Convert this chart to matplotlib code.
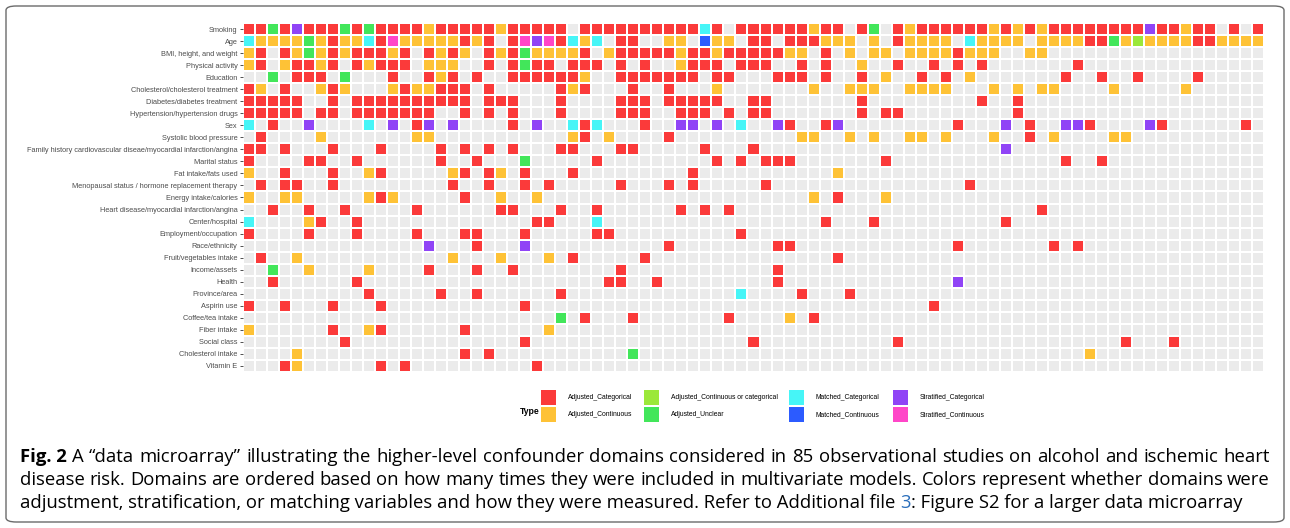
import numpy as np
import matplotlib

matplotlib.use("Agg")
import matplotlib.pyplot as plt
from matplotlib.colors import ListedColormap
from matplotlib.patches import Rectangle, FancyBboxPatch

W, H = 1290, 528

# Domains (rows, top to bottom)
domains = [
    "Smoking", "Age", "BMI, height, and weight", "Physical activity", "Education",
    "Cholesterol/cholesterol treatment", "Diabetes/diabetes treatment",
    "Hypertension/hypertension drugs", "Sex", "Systolic blood pressure",
    "Family history cardiovascular diseae/myocardial infarction/angina",
    "Marital status", "Fat intake/fats used",
    "Menopausal status / hormone replacement therapy", "Energy intake/calories",
    "Heart disease/myocardial infarction/angina", "Center/hospital",
    "Employment/occupation", "Race/ethnicity", "Fruit/vegetables intake",
    "Income/assets", "Health", "Province/area", "Aspirin use", "Coffee/tea intake",
    "Fiber intake", "Social class", "Cholesterol intake", "Vitamin E",
]

# One character per study (85 studies), groups of 10 for readability
# R Adj_Cat, O Adj_Cont, L Adj_Cont_or_cat, G Adj_Unclear,
# C Matched_Cat, B Matched_Cont, P Strat_Cat, K Strat_Cont, . none
rows = [
    "RRGRPRRRGR GRRRRORRRR RORRRRR.RR RRRRRRRRCR .RRRRRRORR .RG.RORRRR RRORORORRR RRRRRPRROR R.R.R",
    "COOOOGOROO CRKOOOOORO R.RKPKRCOC .RR..OO.BO O.RR.RRROO O.O.ROOOO. COOOO.OOOO RRGOLOOOOR ROOOO",
    "OR.ROGOROR RROR.RORO. RORGOOOOR. ORRRRRORRO RRRRROO.R. O.OO.OOOOR OOO..OO...",
    "OR.ORROR.R ORRR.OOO.. R.RGRR.RRR .R.R..ORRR .RRR..R.R. .O..R..R.R .R.......R",
    "..G.RRR.G. ..R..ROR.R ..RRRRRRO. .RRRRRRR.R R...RRR.R. .R.O..R.R. O.......R. .R..R....R",
    "RO.R..ORO. ..OROORRR. R.....ROR. ..R..R...O .......O.. OOO..OOOO. ..O.O.OO.. ..O.....O.",
    "RRRRR..R.R RRRRRRRRR. RRR...R... .RRR.RRRRR ..RR...... .R........ .R..R.....",
    "RRRRR.RR.R RRRRRR..R. R.R...R... .RRR..RRR. R.RR...... .R.RR..... ....R.....",
    "C.R..P.... C.P.RP.P.. ..R.P..CRC ...R..PP.P .C..PR..RP .........R ...P.R..PP R....PR... ...R.",
    ".R....O... ....OO.... .......OR. O....R.... ......OO.. O.O..OO.O. ..O..R.O.. ..OO......",
    "RR.R...R.. .R....R.R. R.R...RR.. .RR.....R. ..R....... .......... ...P......",
    "R....RR..R ......R..R ...G.....R .........R .R.RRR.... ...R...... ........R. .R........",
    "O..R...R.. OR.....OR. RO.R...R.. .......R.. .........O",
    ".R.RR..R.. .......R.. R..R.R.... .R...R.R.. ...R...... .......... R.........",
    "O..OO..... ORO.....R. .O..O..... .......... .......O.R ...O......",
    "..R..R..R. ....R..... .RR...R..R ......R.R. R......... .......... ......R...",
    "C....OR..R .......... ....RR...C .......... ........R. ..R....... ...R......",
    "R....R...R ....R...RR ...R.....R R......... .R........",
    ".......... .....P...R ...P...... .....R.... ....RR.... .........R .......R.R",
    ".R..O..... .......O.. .O...O.R.. ...R...... .........R",
    "..G..O.... O....R...R ..R....... .R........ ....R.....",
    "..R......R .......... .......... RR..R..... ....R..... .........P",
    ".......... R.....R..R ......R... .......... .C....R... R.........",
    "R..R...R.. .R........ ...R...... .......... .......... .......R..",
    ".......... .......... ......G.R. ..R....... R....O.R..",
    "O......R.. OR......R. .....O....",
    "........R. .......... ...R...... .......... ..R....... ....R..... .......... ...R...R..",
    "....O..... ........R. R......... ..G....... .......... .......... .......... O.........",
    "...RO..... .R.R...... ....R.....",
]

type_codes = ["R", "O", "L", "G", "C", "B", "P", "K"]
type_names = [
    "Adjusted_Categorical", "Adjusted_Continuous",
    "Adjusted_Continuous or categorical", "Adjusted_Unclear",
    "Matched_Categorical", "Matched_Continuous",
    "Stratified_Categorical", "Stratified_Continuous",
]
type_colors = ["#FB3A3A", "#FEC236", "#9BE83A", "#42E65A",
               "#46F5F7", "#2C5BFF", "#9044F6", "#FF46C8"]
empty_color = "#EBEBEB"
n_studies = 85

grid = np.zeros((len(domains), n_studies), dtype=int)
for i, r in enumerate(rows):
    s = r.replace(" ", "").ljust(n_studies, ".")
    for j, ch in enumerate(s[:n_studies]):
        grid[i, j] = 0 if ch == "." else type_codes.index(ch) + 1

fig = plt.figure(figsize=(W / 100, H / 100), dpi=100)
fig.patch.set_facecolor("white")

# outer frame of the figure box
fig.add_artist(FancyBboxPatch((6 / W, 6 / H), 1278 / W, 516 / H,
                              boxstyle="round,pad=0,rounding_size=0.008",
                              transform=fig.transFigure, fill=False,
                              edgecolor="#6b6b6b", linewidth=1.0))

ax = fig.add_axes([243 / W, (H - 372) / H, 1021 / W, 349 / H])
cmap = ListedColormap([empty_color] + type_colors)
ax.pcolormesh(np.arange(n_studies + 1), np.arange(len(domains) + 1), grid,
              cmap=cmap, vmin=-0.5, vmax=8.5, edgecolors="white", linewidth=1.1)
ax.set_xlim(0, n_studies)
ax.set_ylim(len(domains), 0)
ax.set_xticks([])
ax.set_yticks(np.arange(len(domains)) + 0.5)
ax.set_yticklabels(domains, fontsize=5.35, color="#4D4D4D", family="Liberation Sans")
ax.tick_params(axis="y", length=2.5, width=0.6, color="#333333", pad=1.5)
for sp in ax.spines.values():
    sp.set_visible(False)

# legend
def px(x, y):
    return x / W, 1 - y / H

fig.text(*px(520, 411), "Type", fontsize=6.2, fontweight="bold",
         family="Liberation Sans", va="center", ha="left")
col_x = [541, 644, 789, 893]
row_y = [390, 407]
for k, (name, col) in enumerate(zip(type_names, type_colors)):
    cx = col_x[k // 2]
    cy = row_y[k % 2]
    fig.add_artist(Rectangle(px(cx, cy + 15), 15 / W, 15 / H,
                             transform=fig.transFigure, facecolor=col,
                             edgecolor="none"))
    fig.text(*px(cx + 27, cy + 7.5), name, fontsize=4.9, color="black",
             family="Liberation Sans", va="center", ha="left")

# caption
cap_family = "Open Sans"
line1 = ("Fig. 2", "A \u201cdata microarray\u201d illustrating the higher-level confounder domains "
         "considered in 85 observational studies on alcohol and ischemic heart")
line2 = ("disease risk. Domains are ordered based on how many times they were included "
         "in multivariate models. Colors represent whether domains were")
line3 = [("adjustment, stratification, or matching variables and how they were measured. "
          "Refer to Additional file ", "black"),
         ("3", "#2a6ebb"),
         (": Figure S2 for a larger data microarray", "black")]

renderer = fig.canvas.get_renderer()
x0, x1 = 20, 1270

# size the caption font so the last (unjustified) line ends where it does
probe = fig.text(0, 0, "".join(s for s, _ in line3), family=cap_family, fontsize=11)
cap_size = 11 * (1243 - x0) / probe.get_window_extent(renderer).width
probe.remove()

def justified(words, y):
    texts = [fig.text(0, y, w, fontweight=wt, color="black", va="center",
                      family=cap_family, fontsize=cap_size) for (w, wt) in words]
    widths = [t.get_window_extent(renderer).width for t in texts]
    gap = (x1 - x0 - sum(widths)) / (len(texts) - 1)
    x = x0
    for t, wdt in zip(texts, widths):
        t.set_x(x / W)
        x += wdt + gap

justified([(line1[0], "bold")] + [(w, "normal") for w in line1[1].split()], 1 - 457 / H)
justified([(w, "normal") for w in line2.split()], 1 - 480 / H)

x = x0
for s, c in line3:
    t = fig.text(x / W, 1 - 503 / H, s, color=c, va="center",
                 family=cap_family, fontsize=cap_size)
    x += t.get_window_extent(renderer).width

fig.savefig("out.png", dpi=100)
